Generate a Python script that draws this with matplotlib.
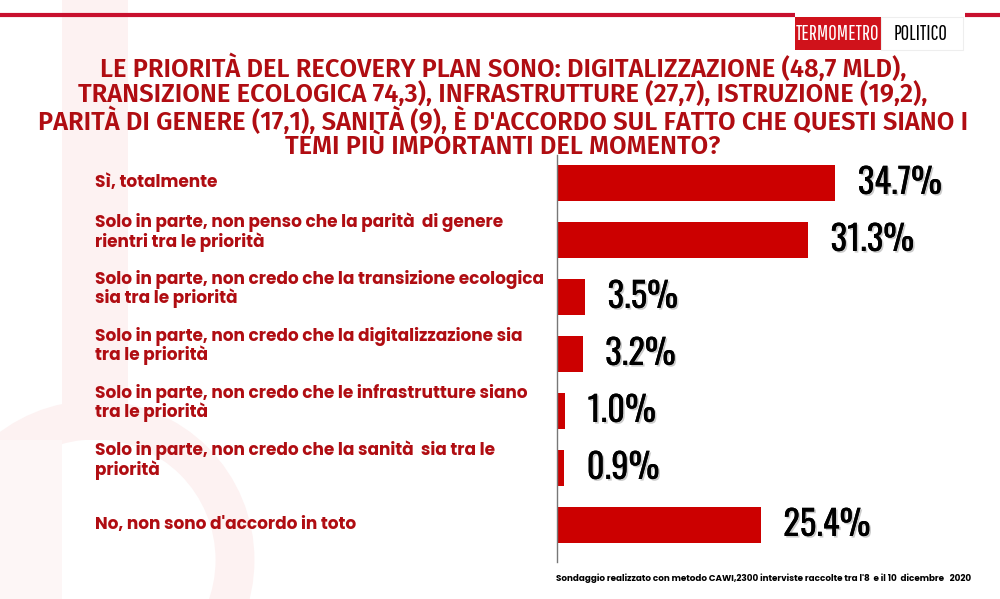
import matplotlib
matplotlib.use("Agg")
import matplotlib.pyplot as plt
import matplotlib.patches as mpatches
import matplotlib.patheffects as pe
from matplotlib import font_manager
import matplotlib.transforms as mtransforms

# ───────────────────────── Data ─────────────────────────
categories = [
    "Sì, totalmente",
    "Solo in parte, non penso che la parità  di genere\nrientri tra le priorità",
    "Solo in parte, non credo che la transizione ecologica\nsia tra le priorità",
    "Solo in parte, non credo che la digitalizzazione sia\ntra le priorità",
    "Solo in parte, non credo che le infrastrutture siano\ntra le priorità",
    "Solo in parte, non credo che la sanità  sia tra le\npriorità",
    "No, non sono d'accordo in toto",
]
values = [34.7, 31.3, 3.5, 3.2, 1.0, 0.9, 25.4]
value_labels = ["34.7%", "31.3%", "3.5%", "3.2%", "1.0%", "0.9%", "25.4%"]

title_text = ("LE PRIORITÀ DEL RECOVERY PLAN SONO: DIGITALIZZAZIONE (48,7 MLD),\n"
              "TRANSIZIONE ECOLOGICA 74,3), INFRASTRUTTURE (27,7), ISTRUZIONE (19,2),\n"
              "PARITÀ DI GENERE (17,1), SANITÀ (9), È D'ACCORDO SUL FATTO CHE QUESTI SIANO I\n"
              "TEMI PIÙ IMPORTANTI DEL MOMENTO?")
footer_text = "Sondaggio realizzato con metodo CAWI,2300 interviste raccolte tra l'8  e il 10  dicembre   2020"

# ───────────────────────── Fonts ─────────────────────────
font_weights = {}
for f in font_manager.fontManager.ttflist:
    font_weights.setdefault(f.name, set()).add(int(f.weight) if str(f.weight).isdigit() else 400)


def pick(names, weight=None):
    # first family installed (and, if asked, with a file near the wanted weight)
    for n in names:
        ws = font_weights.get(n, ())
        if ws and (weight is None or any(abs(w - weight) <= 100 for w in ws)):
            return n
    return "DejaVu Sans"


font_values = pick(["Oswald", "Roboto Condensed", "Open Sans Condensed"])
font_logo = pick(["Pathway Gothic One", "Oswald", "Roboto Condensed"])
font_title = pick(["Fira Sans", "Roboto", "Open Sans"], 600)
font_labels = pick(["Poppins", "Open Sans"], 700)

BAR_RED = "#cc0000"
TEXT_RED = "#b00d12"

W, H = 1000, 599
fig = plt.figure(figsize=(W / 100, H / 100), dpi=100)
fig.patch.set_facecolor("white")

# ───────────────────────── Background decoration ─────────────────────────
bg = fig.add_axes([0, 0, 1, 1], zorder=-5)
bg.set_xlim(0, W)
bg.set_ylim(H, 0)
bg.axis("off")
bg.add_patch(mpatches.Rectangle((62, 0), 66, 440, color="#fdf2f2", lw=0))
bg.add_patch(mpatches.Circle((95, 560), 140, fill=False, ec="#fdf2f2", lw=28))
bg.add_patch(mpatches.Rectangle((0, 440), 62, 159, color="#fdf6f6", lw=0))
# top red rule + logo
bg.plot([0, 795], [15, 15], color="#c8102e", lw=3, solid_capstyle="butt")
bg.plot([965, 1000], [15, 15], color="#c8102e", lw=3, solid_capstyle="butt")
bg.add_patch(mpatches.Rectangle((795, 17), 86, 33, color="#d0121b", lw=0))
bg.add_patch(mpatches.Rectangle((881, 17), 82, 33, color="white", ec="#eeeeee", lw=0.8))
bg.text(838, 34, "TERMOMETRO", color="white", fontsize=15, family=font_logo,
        ha="center", va="center")
bg.text(921, 34, "POLITICO", color="black", fontsize=15, family=font_logo,
        ha="center", va="center")

# title
fig.text(0.503, 1 - 54 / H, title_text, ha="center", va="top", color=TEXT_RED,
         fontsize=18.3, fontweight=600, family=font_title, linespacing=0.96)

# ───────────────────────── Bars ─────────────────────────
ax = fig.add_axes([557 / W, 1 - 562 / H, 420 / W, 407 / H])
y_pos = list(range(len(values)))
ax.barh(y_pos, values, height=0.63, color=BAR_RED)
ax.set_xlim(0, 420 / 8.02)
ax.set_ylim(6.65, -0.49)
for s in ["top", "right", "bottom"]:
    ax.spines[s].set_visible(False)
ax.spines["left"].set_color("#777777")
ax.spines["left"].set_linewidth(1)
ax.set_xticks([])
ax.set_yticks([])
ax.patch.set_alpha(0)

for y, v, lab in zip(y_pos, values, value_labels):
    ax.text(v + 2.8, y, lab, ha="left", va="center", fontsize=25, fontweight="bold",
            family=font_values, color="black",
            path_effects=[pe.withSimplePatchShadow(offset=(1.2, -1.2), shadow_rgbFace="#999999", alpha=0.5),
                          pe.Normal()])

# category labels (x in figure, y in data)
trans = mtransforms.blended_transform_factory(fig.transFigure, ax.transData)
for y, cat in zip(y_pos, categories):
    off = -0.14 if "\n" in cat else 0.0
    ax.text(95 / W, y + off, cat, transform=trans, ha="left", va="center",
            color=TEXT_RED, fontsize=12.2, fontweight="bold", family=font_labels,
            linespacing=1.0)

fig.text(556 / W, 1 - 578 / H, footer_text, ha="left", va="center", fontsize=6.35,
         fontweight="bold", family=font_labels, color="black")

fig.savefig("out.png", dpi=100, facecolor="white")
